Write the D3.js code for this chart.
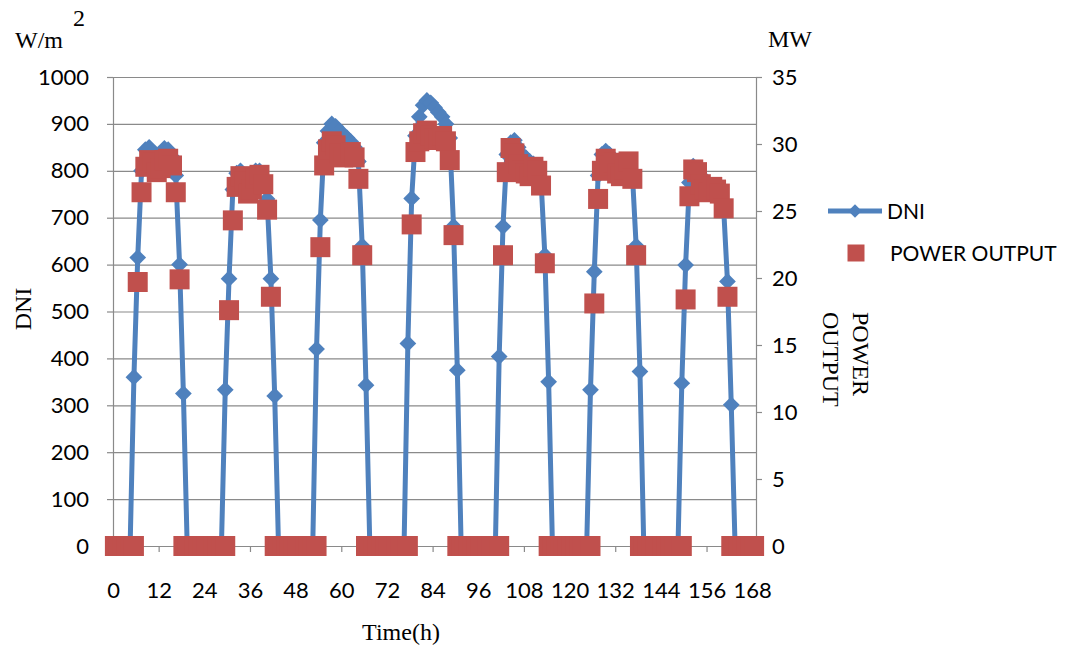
<!DOCTYPE html>
<html>
<head>
<meta charset="utf-8">
<script src="https://cdn.jsdelivr.net/npm/d3@7/dist/d3.min.js"></script>
<style>
  html, body { margin: 0; padding: 0; background: #ffffff; }
  svg { display: block; }
</style>
</head>
<body>
<svg id="chart" width="1070" height="650"></svg>
<script>
// Hourly direct normal irradiance (W/m2) over one week, hours 0..168
const dniValues = [
  0, 0, 0, 0, 0, 360, 615, 800, 845, 850, 840, 825, 835, 848, 845, 830, 790, 600, 325, 0, 0, 0, 0, 0,
  0, 0, 0, 0, 0, 333, 570, 760, 795, 800, 785, 770, 780, 800, 800, 785, 740, 570, 320, 0, 0, 0, 0, 0,
  0, 0, 0, 0, 0, 420, 695, 860, 885, 900, 895, 885, 878, 870, 862, 850, 820, 640, 343, 0, 0, 0, 0, 0,
  0, 0, 0, 0, 0, 432, 741, 875, 915, 940, 950, 945, 935, 925, 915, 900, 870, 682, 375, 0, 0, 0, 0, 0,
  0, 0, 0, 0, 0, 404, 681, 835, 860, 865, 850, 835, 828, 820, 815, 805, 780, 620, 350, 0, 0, 0, 0, 0,
  0, 0, 0, 0, 0, 333, 585, 790, 835, 842, 835, 825, 820, 815, 815, 810, 795, 640, 372, 0, 0, 0, 0, 0,
  0, 0, 0, 0, 0, 347, 599, 775, 810, 805, 790, 780, 772, 765, 760, 750, 720, 564, 301, 0, 0, 0, 0, 0,
  0
];

// Hourly plant power output (MW), hours 0..168
const powerValues = [
  0, 0, 0, 0, 0, 0, 19.7, 26.4, 28.3, 28.8, 28.6, 27.9, 28.2, 28.8, 28.9, 28.4, 26.4, 19.9, 0, 0, 0, 0, 0, 0,
  0, 0, 0, 0, 0, 0, 17.6, 24.3, 26.8, 27.6, 27.2, 26.3, 26.6, 27.4, 27.7, 27.0, 25.1, 18.6, 0, 0, 0, 0, 0, 0,
  0, 0, 0, 0, 0, 0, 22.3, 28.4, 29.6, 30.2, 29.9, 29.3, 29.0, 29.1, 29.4, 29.0, 27.4, 21.7, 0, 0, 0, 0, 0, 0,
  0, 0, 0, 0, 0, 0, 24.0, 29.4, 30.2, 30.8, 31.0, 30.6, 30.4, 30.3, 30.6, 30.2, 28.8, 23.2, 0, 0, 0, 0, 0, 0,
  0, 0, 0, 0, 0, 0, 21.7, 27.9, 29.7, 29.3, 28.5, 28.0, 27.8, 27.6, 28.3, 28.0, 26.9, 21.1, 0, 0, 0, 0, 0, 0,
  0, 0, 0, 0, 0, 0, 18.1, 25.9, 28.0, 28.9, 28.4, 28.6, 27.8, 27.6, 28.1, 28.7, 27.4, 21.7, 0, 0, 0, 0, 0, 0,
  0, 0, 0, 0, 0, 0, 18.4, 26.1, 28.1, 27.9, 27.0, 26.6, 26.4, 26.8, 26.6, 26.3, 25.2, 18.6, 0, 0, 0, 0, 0, 0,
  0
];

const hours = d3.range(0, dniValues.length);
const dniTicks = [0, 100, 200, 300, 400, 500, 600, 700, 800, 900, 1000];
const powerTicks = [0, 5, 10, 15, 20, 25, 30, 35];
const hourTicks = [0, 12, 24, 36, 48, 60, 72, 84, 96, 108, 120, 132, 144, 156, 168];

const BLUE = "#4F81BD";
const RED = "#C0504D";
const GRID = "#8a8a8a";
const TICK_FONT = "Lato, 'Open Sans', sans-serif";
const TITLE_FONT = "'Liberation Serif', 'DejaVu Serif', serif";

const plot = { left: 113, right: 756, top: 77, bottom: 546 };

const svg = d3.select("#chart");
svg.append("rect").attr("width", 1070).attr("height", 650).attr("fill", "#ffffff");

// Categories sit in the middle of their slots; ticks fall on slot boundaries
const x = d3.scaleLinear().domain([0, hours.length]).range([plot.left, plot.right]);
const yLeft = d3.scaleLinear().domain([0, 1000]).range([plot.bottom, plot.top]);
const yRight = d3.scaleLinear().domain([0, 35]).range([plot.bottom, plot.top]);
const cx = h => x(h + 0.5);
const plain = d3.format("d");

// Horizontal gridlines
const grid = svg.append("g")
  .attr("transform", `translate(${plot.left},0)`)
  .call(d3.axisLeft(yLeft).tickValues(dniTicks).tickSize(-(plot.right - plot.left)).tickFormat(""));
grid.select(".domain").remove();
grid.selectAll("line").attr("stroke", GRID).attr("stroke-width", 1.2);

// Left axis (DNI)
const axL = svg.append("g")
  .attr("transform", `translate(${plot.left},0)`)
  .call(d3.axisLeft(yLeft).tickValues(dniTicks).tickFormat(plain)
    .tickSize(6).tickSizeOuter(0).tickPadding(18));
// Right axis (power)
const axR = svg.append("g")
  .attr("transform", `translate(${plot.right},0)`)
  .call(d3.axisRight(yRight).tickValues(powerTicks).tickFormat(plain)
    .tickSize(6).tickSizeOuter(0).tickPadding(10));
// Bottom axis (time)
const axB = svg.append("g")
  .attr("transform", `translate(0,${plot.bottom})`)
  .call(d3.axisBottom(x).tickValues(hourTicks).tickFormat(plain)
    .tickSize(6).tickSizeOuter(0).tickPadding(30));

[axL, axR, axB].forEach(g => {
  g.select(".domain").attr("stroke", GRID).attr("stroke-width", 1.2);
  g.selectAll(".tick line").attr("stroke", GRID).attr("stroke-width", 1.2);
  g.selectAll("text")
    .attr("fill", "#000")
    .style("font-family", TICK_FONT)
    .style("font-size", "22px");
});

// DNI series: thick line with diamond markers
const dniData = hours.map(h => ({ h, v: dniValues[h] }));
svg.append("path")
  .datum(dniData)
  .attr("fill", "none")
  .attr("stroke", BLUE)
  .attr("stroke-width", 5)
  .attr("stroke-linejoin", "round")
  .attr("d", d3.line().x(d => cx(d.h)).y(d => yLeft(d.v)));

const diamond = d3.symbol().type(d3.symbolSquare).size(140);
svg.append("g").selectAll("path")
  .data(dniData)
  .join("path")
  .attr("d", diamond)
  .attr("fill", BLUE)
  .attr("transform", d => `translate(${cx(d.h)},${yLeft(d.v)}) rotate(45)`);

// Power output series: square markers only
const powerData = hours.map(h => ({ h, v: powerValues[h] }));
const square = d3.symbol().type(d3.symbolSquare).size(400);
svg.append("g").selectAll("path")
  .data(powerData)
  .join("path")
  .attr("d", square)
  .attr("fill", RED)
  .attr("transform", d => `translate(${cx(d.h)},${yRight(d.v)})`);

// Unit labels
svg.append("text").attr("x", 15).attr("y", 48)
  .style("font-family", TITLE_FONT).style("font-size", "24px").text("W/m");
svg.append("text").attr("x", 73).attr("y", 26)
  .style("font-family", TITLE_FONT).style("font-size", "24px").text("2");
svg.append("text").attr("x", 768).attr("y", 47)
  .style("font-family", TITLE_FONT).style("font-size", "24px").text("MW");

// Axis titles
svg.append("text")
  .attr("transform", "translate(31,309) rotate(-90)")
  .attr("text-anchor", "middle")
  .style("font-family", TITLE_FONT).style("font-size", "24px").text("DNI");
svg.append("text")
  .attr("transform", "translate(853,312) rotate(90)")
  .style("font-family", TITLE_FONT).style("font-size", "24px").text("POWER");
svg.append("text")
  .attr("transform", "translate(823,312) rotate(90)")
  .style("font-family", TITLE_FONT).style("font-size", "24px").text("OUTPUT");
svg.append("text")
  .attr("x", 401).attr("y", 640)
  .attr("text-anchor", "middle")
  .style("font-family", TITLE_FONT).style("font-size", "24px").text("Time(h)");

// Legend
const legend = svg.append("g");
legend.append("line")
  .attr("x1", 828).attr("x2", 882).attr("y1", 211).attr("y2", 211)
  .attr("stroke", BLUE).attr("stroke-width", 5);
legend.append("path")
  .attr("d", d3.symbol().type(d3.symbolSquare).size(90))
  .attr("fill", BLUE)
  .attr("transform", "translate(855,211) rotate(45)");
legend.append("text").attr("x", 887).attr("y", 219)
  .style("font-family", TICK_FONT).style("font-size", "21px").text("DNI");
legend.append("path")
  .attr("d", d3.symbol().type(d3.symbolSquare).size(289))
  .attr("fill", RED)
  .attr("transform", "translate(856,253)");
legend.append("text").attr("x", 890).attr("y", 261)
  .style("font-family", TICK_FONT).style("font-size", "21px").text("POWER OUTPUT");
</script>
</body>
</html>
